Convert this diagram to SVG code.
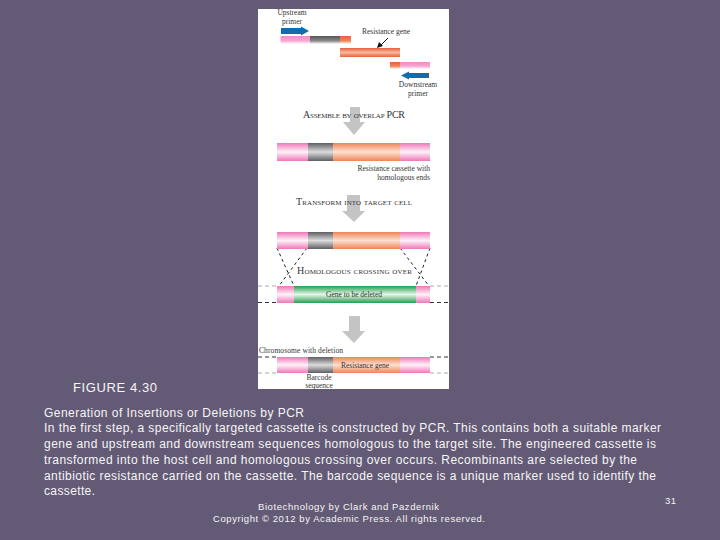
<svg xmlns="http://www.w3.org/2000/svg" width="720" height="540" viewBox="0 0 720 540">
<style>
.s{font-family:"Liberation Serif",serif;fill:#333;font-size:7.5px}
.c{text-anchor:middle}
.sc{font-family:"Liberation Serif",serif;fill:#333;font-size:10px;font-variant:small-caps}
.w{font-family:"Liberation Sans",Arial,sans-serif;fill:#f6f6f6;font-size:12px}
.f{font-family:"Liberation Sans",Arial,sans-serif;fill:#f6f6f6;font-size:9.5px}
.g{fill:#c4c4c4}
.d{fill:none;stroke:#222;stroke-width:1;stroke-dasharray:3 3}
.dg{fill:none;stroke:#aaa;stroke-width:1;stroke-dasharray:4 3}
.dk{fill:none;stroke:#333;stroke-width:1;stroke-dasharray:4 3}
.b{fill:#0f6cae}
</style>
<defs>
<linearGradient id="pk" x1="0" y1="0" x2="0" y2="1"><stop offset="0" stop-color="#ee78b8"/><stop offset=".5" stop-color="#fff2f8"/><stop offset="1" stop-color="#ee78b8"/></linearGradient>
<linearGradient id="gy" x1="0" y1="0" x2="0" y2="1"><stop offset="0" stop-color="#5e5e62"/><stop offset=".5" stop-color="#dcdcdc"/><stop offset="1" stop-color="#5e5e62"/></linearGradient>
<linearGradient id="or" x1="0" y1="0" x2="0" y2="1"><stop offset="0" stop-color="#ee8458"/><stop offset=".5" stop-color="#fde0d0"/><stop offset="1" stop-color="#ee8458"/></linearGradient>
<linearGradient id="rd" x1="0" y1="0" x2="0" y2="1"><stop offset="0" stop-color="#e8603c"/><stop offset=".5" stop-color="#f7b8a0"/><stop offset="1" stop-color="#e8603c"/></linearGradient>
<linearGradient id="gn" x1="0" y1="0" x2="0" y2="1"><stop offset="0" stop-color="#25a050"/><stop offset=".5" stop-color="#e4f6e8"/><stop offset="1" stop-color="#25a050"/></linearGradient>
<linearGradient id="pk2" x1="0" y1="0" x2="0" y2="1"><stop offset="0" stop-color="#f08cc4"/><stop offset=".6" stop-color="#f6a8d2"/><stop offset="1" stop-color="#fff"/></linearGradient>
<linearGradient id="gy2" x1="0" y1="0" x2="0" y2="1"><stop offset="0" stop-color="#555"/><stop offset=".6" stop-color="#888"/><stop offset="1" stop-color="#fff"/></linearGradient>
<linearGradient id="rd2" x1="0" y1="0" x2="0" y2="1"><stop offset="0" stop-color="#e8603c"/><stop offset=".6" stop-color="#ee8458"/><stop offset="1" stop-color="#fff"/></linearGradient>
</defs>
<rect width="720" height="540" fill="#635a75"/>
<rect id="panel" x="258" y="9" width="191" height="380" fill="#fff"/>
<g id="connectors">
<path class="d" d="M277 248L294 286M307 248L279 286M400 248L429 286M430 248L416 286"/>
<path class="dg" d="M258 286H277M430 286H449M258 373H277M430 373H449"/>
<path class="dk" d="M258 302.500H277M430 302.500H449M258 357H277M430 357H449"/>
<path d="M388 38L380 46" stroke="#111" stroke-width="1"/><path d="M377 48L379 42L383 46Z" fill="#111"/>
<path class="g" d="M350 107H360V122H365L354 135L343 122H350Z"/>
<path class="g" d="M347 195H360V211H365L354 222L342 211H347Z"/>
<path class="g" d="M349 316H360V331H365L354 343L342 331H349Z"/>
<path class="b" d="M281 28H301V26.500L309 31L301 35.500V34H281Z"/>
<path class="b" d="M429 73H409V71.500L401 75.500L409 79.500V78H429Z"/>
</g>
<g id="primer-up">
<rect x="280.500" y="36" width="30" height="8" fill="url(#pk2)"/><rect x="310" y="36" width="30" height="8" fill="url(#gy2)"/><rect x="340" y="36" width="11" height="8" fill="url(#rd2)"/>
<text class="s c" x="292" y="15">Upstream</text><text class="s c" x="292" y="23.500">primer</text>
</g>
<g id="resistance-gene">
<rect x="340" y="48" width="60" height="9" fill="url(#rd)"/>
<text class="s c" x="386" y="34">Resistance gene</text>
</g>
<g id="primer-down">
<rect x="390" y="62" width="10" height="7" fill="url(#rd2)"/><rect x="400" y="62" width="30" height="7" fill="url(#pk2)"/>
<text class="s c" x="418" y="87">Downstream</text><text class="s c" x="418" y="96">primer</text>
</g>
<text class="sc" x="303" y="118" textLength="102" lengthAdjust="spacing">Assemble by overlap PCR</text>
<g id="cassette">
<rect x="277" y="143" width="31" height="18" fill="url(#pk)"/><rect x="308" y="143" width="25" height="18" fill="url(#gy)"/><rect x="333" y="143" width="67" height="18" fill="url(#or)"/><rect x="400" y="143" width="30" height="18" fill="url(#pk)"/>
<text class="s" x="430" y="171" text-anchor="end">Resistance cassette with</text><text class="s" x="430" y="179.500" text-anchor="end">homologous ends</text>
</g>
<text class="sc" x="296" y="205" textLength="116" lengthAdjust="spacing">Transform into target cell</text>
<g id="cassette-2">
<rect x="277" y="232" width="31" height="17" fill="url(#pk)"/><rect x="308" y="232" width="25" height="17" fill="url(#gy)"/><rect x="333" y="232" width="67" height="17" fill="url(#or)"/><rect x="400" y="232" width="30" height="17" fill="url(#pk)"/>
</g>
<text class="sc" x="297" y="274" textLength="115" lengthAdjust="spacing">Homologous crossing over</text>
<g id="target">
<rect x="277" y="286" width="17" height="17" fill="url(#pk)"/><rect x="294" y="286" width="122" height="17" fill="url(#gn)"/><rect x="416" y="286" width="14" height="17" fill="url(#pk)"/>
<text class="s c" x="354" y="297">Gene to be deleted</text>
</g>
<text class="s" x="259" y="352.500" textLength="84" lengthAdjust="spacing">Chromosome with deletion</text>
<g id="result">
<rect x="277" y="357" width="31" height="16" fill="url(#pk)"/><rect x="308" y="357" width="25" height="16" fill="url(#gy)"/><rect x="333" y="357" width="67" height="16" fill="url(#or)"/><rect x="400" y="357" width="30" height="16" fill="url(#pk)"/>
<text class="s c" x="365" y="368">Resistance gene</text>
<text class="s c" x="319" y="380">Barcode</text><text class="s c" x="319" y="388">sequence</text>
</g>
<g id="caption">
<text class="w" x="73" y="391.500" style="font-size:13px" textLength="84" lengthAdjust="spacing">FIGURE 4.30</text>
<text class="w" x="44" y="416.500" textLength="260" lengthAdjust="spacing">Generation of Insertions or Deletions by PCR</text>
<text class="w" x="44" y="432" textLength="617" lengthAdjust="spacing">In the first step, a specifically targeted cassette is constructed by PCR. This contains both a suitable marker</text>
<text class="w" x="44" y="448" textLength="612" lengthAdjust="spacing">gene and upstream and downstream sequences homologous to the target site. The engineered cassette is</text>
<text class="w" x="44" y="463.500" textLength="593" lengthAdjust="spacing">transformed into the host cell and homologous crossing over occurs. Recombinants are selected by the</text>
<text class="w" x="44" y="479.500" textLength="612" lengthAdjust="spacing">antibiotic resistance carried on the cassette. The barcode sequence is a unique marker used to identify the</text>
<text class="w" x="44" y="495" textLength="51" lengthAdjust="spacing">cassette.</text>
</g>
<g id="footer">
<text class="f" x="258" y="510" textLength="181" lengthAdjust="spacing">Biotechnology by Clark and Pazdernik</text>
<text class="f" x="213" y="522" textLength="272" lengthAdjust="spacing">Copyright © 2012 by Academic Press. All rights reserved.</text>
<text class="f" x="665" y="504" textLength="11" lengthAdjust="spacing">31</text>
</g>
</svg>
